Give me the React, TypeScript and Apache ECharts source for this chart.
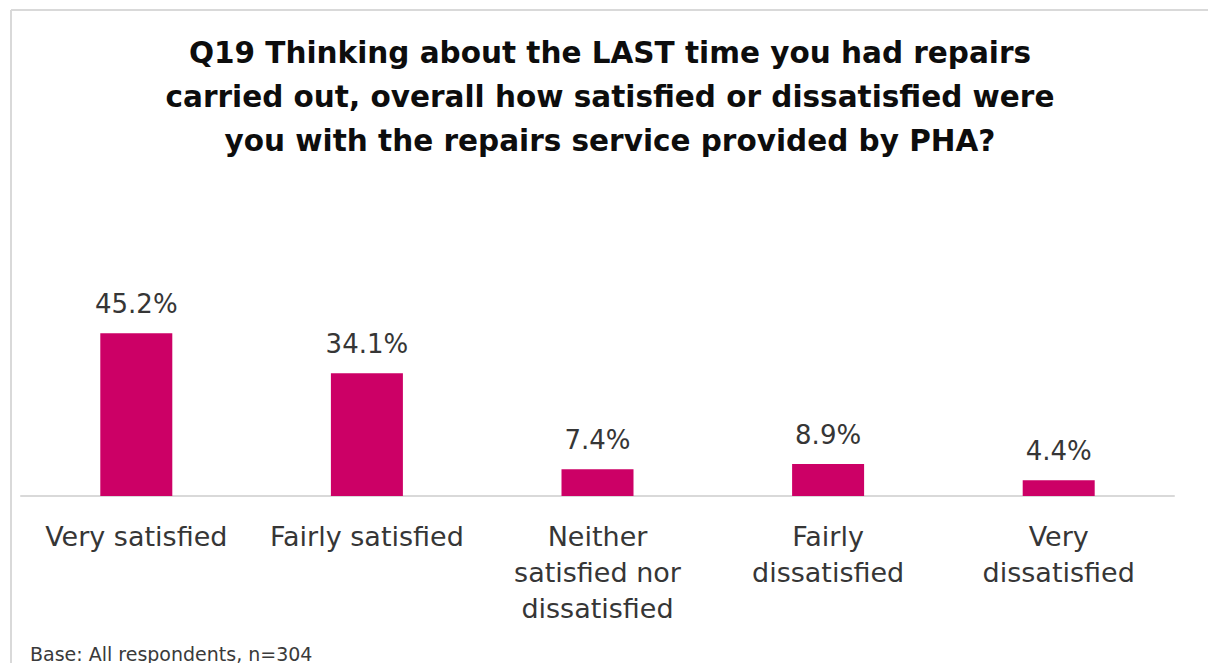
import React, { useEffect, useRef } from "react";
import * as echarts from "echarts";

const titleText =
  "Q19 Thinking about the LAST time you had repairs\ncarried out, overall how satisfied or dissatisfied were\nyou with the repairs service provided by PHA?";
const categories = [
  "Very satisfied",
  "Fairly satisfied",
  "Neither\nsatisfied nor\ndissatisfied",
  "Fairly\ndissatisfied",
  "Very\ndissatisfied",
];
const values = [45.2, 34.1, 7.4, 8.9, 4.4];
const baseNote = "Base: All respondents, n=304";

export default function App() {
  const ref = useRef<HTMLDivElement>(null);
  useEffect(() => {
    document.body.style.margin = "0";
    const chart = echarts.init(ref.current!, null, { renderer: "svg" });
    chart.setOption({
      animation: false,
      backgroundColor: "#ffffff",
      title: {
        text: titleText,
        left: 605,
        textAlign: "center",
        top: 26,
        textStyle: {
          fontFamily: "DejaVu Sans",
          fontWeight: "bold",
          fontSize: 29.5,
          lineHeight: 44,
          color: "#0d0d0d",
        },
      },
      graphic: [
        {
          type: "line",
          shape: { x1: 11, y1: 10, x2: 1208, y2: 10 },
          style: { stroke: "#d9d9d9", lineWidth: 2 },
        },
        {
          type: "line",
          shape: { x1: 11, y1: 10, x2: 11, y2: 663 },
          style: { stroke: "#d9d9d9", lineWidth: 2 },
        },
        {
          type: "text",
          left: 30,
          top: 644,
          style: {
            text: baseNote,
            font: "19px 'DejaVu Sans'",
            fill: "#3a3a3a",
          },
        },
      ],
      grid: { left: 21, right: 34, top: 316, bottom: 167, containLabel: false },
      xAxis: {
        type: "category",
        data: categories,
        axisLine: { show: true, lineStyle: { color: "#d9d9d9", width: 2 } },
        axisTick: { show: false },
        axisLabel: {
          interval: 0,
          margin: 22,
          fontFamily: "DejaVu Sans",
          fontSize: 27,
          lineHeight: 36,
          color: "#363636",
        },
      },
      yAxis: {
        type: "value",
        min: 0,
        max: 50,
        show: false,
        splitLine: { show: false },
      },
      series: [
        {
          type: "bar",
          data: values,
          barWidth: 72,
          itemStyle: { color: "#cc0066" },
          label: {
            show: true,
            position: "top",
            distance: 16,
            formatter: (p: any) => p.value.toFixed(1) + "%",
            fontFamily: "DejaVu Sans",
            fontSize: 26,
            color: "#363636",
          },
        },
      ],
    });
    return () => chart.dispose();
  }, []);
  return (
    <div
      ref={ref}
      style={{ position: "absolute", left: 0, top: 0, width: 1208, height: 663 }}
    />
  );
}
